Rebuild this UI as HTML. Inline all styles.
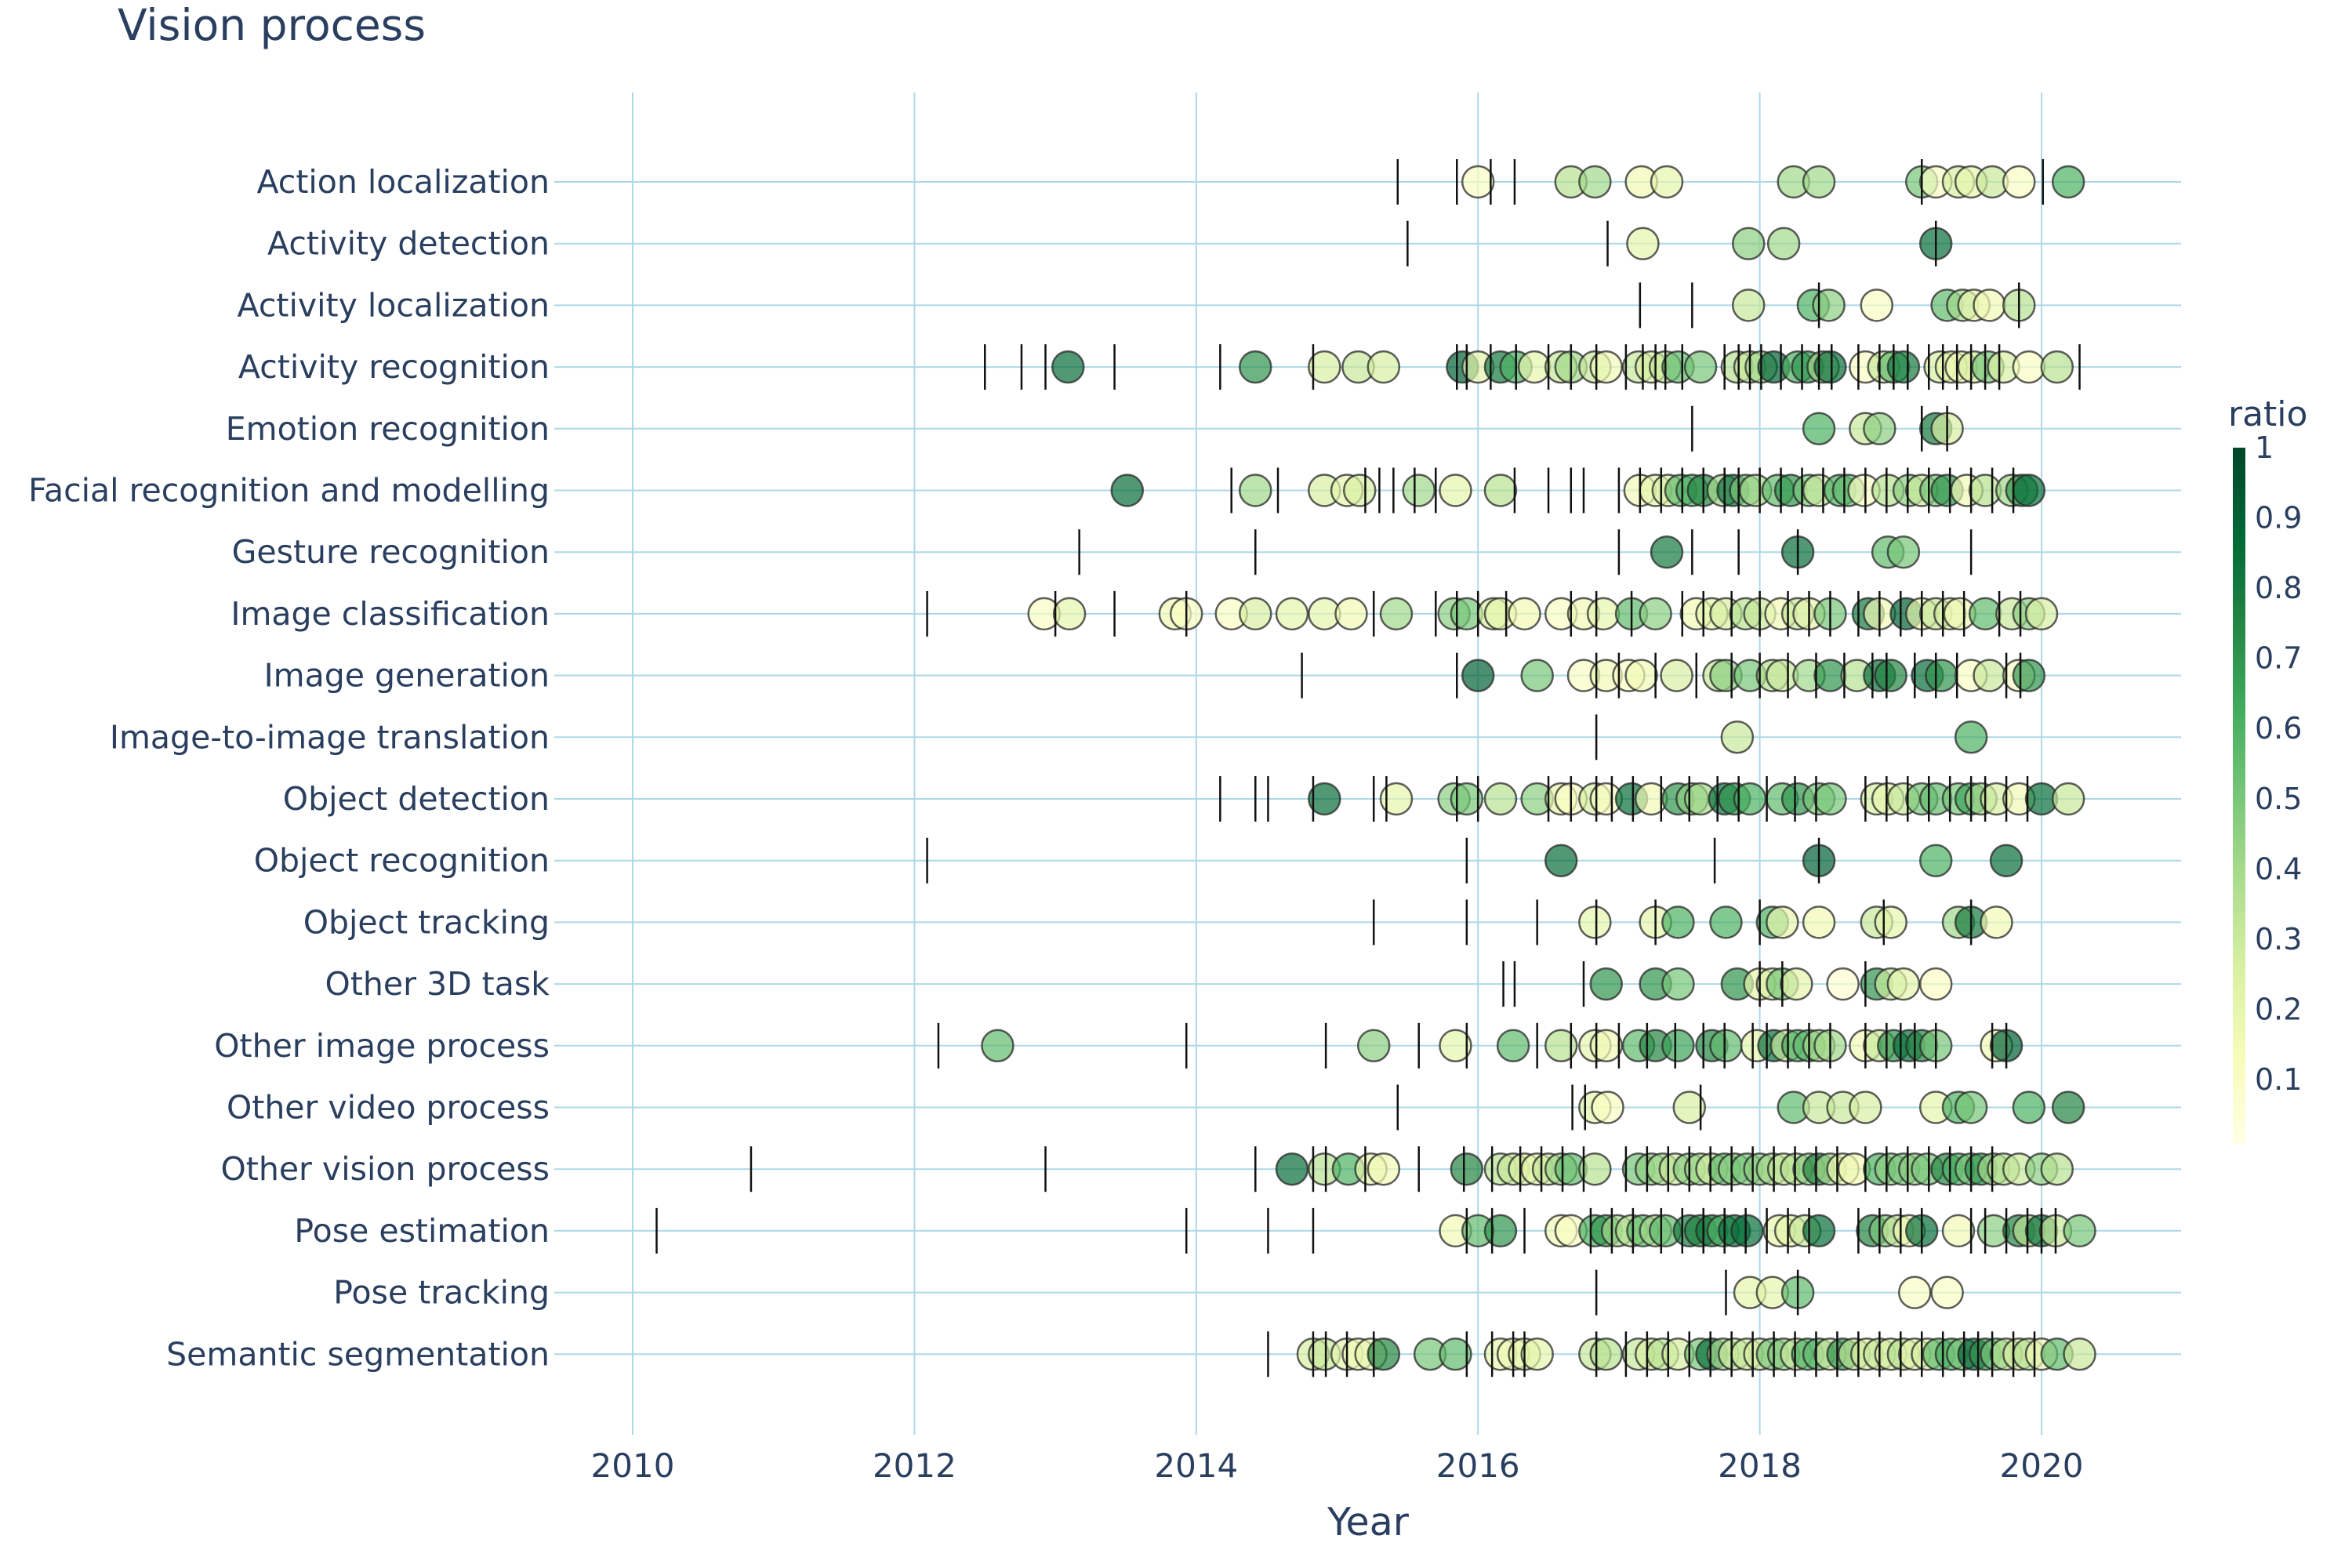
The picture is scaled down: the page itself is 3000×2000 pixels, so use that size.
<!DOCTYPE html>
<html><head><meta charset="utf-8"><style>
html,body{margin:0;padding:0;background:#fff;}
svg{display:block;font-family:"DejaVu Sans","Liberation Sans",sans-serif;}
</style></head><body>
<svg id="chart" width="3000" height="2000" viewBox="0 0 3000 2000" xmlns="http://www.w3.org/2000/svg">
<defs><linearGradient id="cbgrad" x1="0" y1="1" x2="0" y2="0">
<stop offset="0" stop-color="#ffffe5"/><stop offset="0.125" stop-color="#f7fcb9"/><stop offset="0.25" stop-color="#d9f0a3"/><stop offset="0.375" stop-color="#addd8e"/><stop offset="0.5" stop-color="#78c679"/><stop offset="0.625" stop-color="#41ab5d"/><stop offset="0.75" stop-color="#238443"/><stop offset="0.875" stop-color="#006837"/><stop offset="1" stop-color="#004529"/></linearGradient></defs>
<text x="150" y="51" font-size="55" fill="#2a3f5f">Vision process</text>
<g id="grid"></g>
<g id="ylabels"></g>
<g id="xlabels"></g>
<g id="points"></g>
<g id="ticks"></g>
<text x="1745" y="1958" font-size="49" fill="#2a3f5f" text-anchor="middle">Year</text>
<g id="colorbar">
<text x="2842" y="543" font-size="44" fill="#2a3f5f">ratio</text>
<rect x="2848" y="571" width="16" height="888" fill="url(#cbgrad)"/>
</g>
</svg>
<script>
const categories=["Action localization","Activity detection","Activity localization","Activity recognition","Emotion recognition","Facial recognition and modelling","Gesture recognition","Image classification","Image generation","Image-to-image translation","Object detection","Object recognition","Object tracking","Other 3D task","Other image process","Other video process","Other vision process","Pose estimation","Pose tracking","Semantic segmentation"];
const xTicks=[2010,2012,2014,2016,2018,2020];
const cbTicks=[0.1,0.2,0.3,0.4,0.5,0.6,0.7,0.8,0.9,1];
const cbTickLabels=["0.1","0.2","0.3","0.4","0.5","0.6","0.7","0.8","0.9","1"];
// points: [year, ratio]
const pts0=[[2016.0,0.1],[2016.66,0.35],[2016.83,0.4],[2017.16,0.15],[2017.34,0.2],[2018.24,0.4],[2018.42,0.4],[2019.15,0.5],[2019.25,0.1],[2019.41,0.25],[2019.5,0.2],[2019.65,0.3],[2019.84,0.1],[2020.19,0.6]];
const pts1=[[2017.17,0.2],[2017.92,0.45],[2018.17,0.4],[2019.25,0.85]];
const pts2=[[2017.92,0.3],[2018.38,0.6],[2018.49,0.45],[2018.83,0.1],[2019.33,0.55],[2019.44,0.4],[2019.52,0.2],[2019.63,0.15],[2019.84,0.35]];
const pts3=[[2013.09,0.85],[2014.42,0.7],[2014.91,0.25],[2015.15,0.3],[2015.33,0.25],[2015.89,0.9],[2016.0,0.2],[2016.16,0.8],[2016.27,0.6],[2016.4,0.2],[2016.59,0.3],[2016.66,0.4],[2016.83,0.3],[2016.91,0.15],[2017.14,0.3],[2017.23,0.25],[2017.33,0.3],[2017.42,0.55],[2017.58,0.5],[2017.84,0.35],[2017.93,0.3],[2018.01,0.4],[2018.1,0.9],[2018.27,0.6],[2018.34,0.7],[2018.45,0.4],[2018.5,0.85],[2018.75,0.1],[2018.88,0.3],[2018.95,0.55],[2019.02,0.8],[2019.28,0.25],[2019.36,0.2],[2019.43,0.15],[2019.52,0.25],[2019.62,0.5],[2019.73,0.25],[2019.91,0.1],[2020.11,0.35]];
const pts4=[[2018.42,0.6],[2018.75,0.3],[2018.85,0.45],[2019.25,0.8],[2019.33,0.25]];
const pts5=[[2013.51,0.85],[2014.42,0.4],[2014.91,0.25],[2015.07,0.2],[2015.16,0.25],[2015.58,0.4],[2015.84,0.2],[2016.16,0.35],[2017.15,0.15],[2017.26,0.2],[2017.35,0.25],[2017.44,0.55],[2017.52,0.6],[2017.6,0.75],[2017.74,0.4],[2017.81,0.85],[2017.9,0.5],[2017.97,0.4],[2018.13,0.55],[2018.22,0.7],[2018.35,0.5],[2018.42,0.3],[2018.57,0.6],[2018.63,0.55],[2018.74,0.1],[2018.91,0.35],[2019.06,0.45],[2019.15,0.3],[2019.25,0.5],[2019.33,0.7],[2019.47,0.15],[2019.6,0.35],[2019.79,0.4],[2019.86,0.7],[2019.91,0.85]];
const pts6=[[2017.34,0.8],[2018.27,0.85],[2018.91,0.55],[2019.02,0.5]];
const pts7=[[2012.92,0.1],[2013.1,0.2],[2013.85,0.15],[2013.93,0.1],[2014.25,0.1],[2014.42,0.25],[2014.68,0.2],[2014.91,0.2],[2015.1,0.15],[2015.42,0.4],[2015.83,0.45],[2015.92,0.5],[2016.11,0.25],[2016.16,0.2],[2016.33,0.15],[2016.59,0.1],[2016.75,0.15],[2016.89,0.2],[2017.09,0.55],[2017.26,0.45],[2017.55,0.15],[2017.66,0.2],[2017.76,0.25],[2017.9,0.35],[2018.0,0.3],[2018.15,0.15],[2018.27,0.3],[2018.35,0.2],[2018.5,0.5],[2018.77,0.8],[2018.85,0.15],[2019.04,0.9],[2019.15,0.2],[2019.25,0.3],[2019.35,0.25],[2019.42,0.15],[2019.6,0.55],[2019.79,0.3],[2019.91,0.45],[2020.0,0.25]];
const pts8=[[2016.0,0.9],[2016.42,0.5],[2016.75,0.1],[2016.91,0.15],[2017.07,0.1],[2017.16,0.15],[2017.41,0.25],[2017.71,0.3],[2017.76,0.45],[2017.93,0.5],[2018.09,0.35],[2018.16,0.3],[2018.35,0.4],[2018.5,0.7],[2018.69,0.35],[2018.85,0.85],[2018.93,0.75],[2019.19,0.85],[2019.29,0.7],[2019.5,0.1],[2019.63,0.3],[2019.84,0.1],[2019.91,0.7]];
const pts9=[[2017.84,0.3],[2019.5,0.6]];
const pts10=[[2014.91,0.85],[2015.42,0.2],[2015.83,0.45],[2015.92,0.5],[2016.16,0.35],[2016.42,0.45],[2016.59,0.2],[2016.66,0.1],[2016.83,0.25],[2016.91,0.1],[2017.09,0.85],[2017.23,0.15],[2017.42,0.7],[2017.52,0.45],[2017.58,0.4],[2017.75,0.85],[2017.82,0.7],[2017.93,0.6],[2018.16,0.55],[2018.27,0.7],[2018.42,0.5],[2018.5,0.5],[2018.83,0.25],[2018.91,0.2],[2019.02,0.3],[2019.15,0.5],[2019.25,0.55],[2019.41,0.5],[2019.5,0.65],[2019.57,0.4],[2019.68,0.25],[2019.84,0.15],[2020.0,0.85],[2020.19,0.3]];
const pts11=[[2016.59,0.85],[2018.42,0.9],[2019.25,0.6],[2019.75,0.85]];
const pts12=[[2016.83,0.2],[2017.26,0.2],[2017.42,0.6],[2017.76,0.6],[2018.09,0.6],[2018.16,0.2],[2018.42,0.15],[2018.83,0.3],[2018.93,0.2],[2019.41,0.4],[2019.5,0.8],[2019.68,0.15]];
const pts13=[[2016.91,0.7],[2017.26,0.7],[2017.42,0.5],[2017.84,0.7],[2018.0,0.2],[2018.09,0.25],[2018.16,0.5],[2018.26,0.2],[2018.59,0.05],[2018.83,0.7],[2018.93,0.3],[2019.02,0.2],[2019.25,0.1]];
const pts14=[[2012.59,0.55],[2015.26,0.45],[2015.84,0.2],[2016.25,0.55],[2016.59,0.35],[2016.83,0.2],[2016.91,0.15],[2017.14,0.55],[2017.26,0.75],[2017.42,0.65],[2017.66,0.75],[2017.76,0.55],[2017.98,0.2],[2018.1,0.85],[2018.19,0.3],[2018.27,0.6],[2018.35,0.55],[2018.42,0.4],[2018.5,0.4],[2018.75,0.15],[2018.85,0.3],[2018.95,0.7],[2019.06,0.85],[2019.15,0.75],[2019.25,0.5],[2019.68,0.15],[2019.75,0.9]];
const pts15=[[2016.83,0.2],[2016.92,0.1],[2017.5,0.25],[2018.24,0.55],[2018.42,0.3],[2018.59,0.3],[2018.75,0.25],[2019.25,0.2],[2019.41,0.6],[2019.5,0.5],[2019.91,0.6],[2020.19,0.75]];
const pts16=[[2014.68,0.85],[2014.91,0.35],[2015.08,0.6],[2015.24,0.2],[2015.33,0.15],[2015.92,0.75],[2016.16,0.35],[2016.25,0.3],[2016.33,0.25],[2016.42,0.2],[2016.5,0.3],[2016.59,0.4],[2016.66,0.55],[2016.83,0.35],[2017.14,0.5],[2017.23,0.45],[2017.31,0.4],[2017.4,0.3],[2017.5,0.45],[2017.58,0.4],[2017.66,0.3],[2017.75,0.55],[2017.82,0.45],[2017.91,0.5],[2018.0,0.45],[2018.09,0.4],[2018.17,0.3],[2018.26,0.35],[2018.35,0.45],[2018.42,0.75],[2018.5,0.4],[2018.59,0.2],[2018.67,0.15],[2018.85,0.6],[2018.93,0.45],[2019.02,0.5],[2019.1,0.45],[2019.19,0.5],[2019.33,0.75],[2019.41,0.6],[2019.5,0.5],[2019.57,0.7],[2019.66,0.4],[2019.73,0.35],[2019.84,0.3],[2020.0,0.45],[2020.11,0.35]];
const pts17=[[2015.84,0.15],[2016.0,0.55],[2016.16,0.7],[2016.59,0.15],[2016.66,0.1],[2016.83,0.6],[2016.91,0.7],[2016.99,0.4],[2017.09,0.35],[2017.17,0.55],[2017.26,0.4],[2017.33,0.55],[2017.5,0.8],[2017.58,0.75],[2017.66,0.8],[2017.74,0.6],[2017.82,0.85],[2017.91,0.85],[2018.14,0.2],[2018.22,0.2],[2018.32,0.3],[2018.42,0.85],[2018.8,0.75],[2018.89,0.5],[2018.98,0.3],[2019.06,0.15],[2019.15,0.85],[2019.41,0.15],[2019.66,0.45],[2019.84,0.75],[2019.91,0.35],[2020.0,0.85],[2020.1,0.3],[2020.27,0.5]];
const pts18=[[2017.93,0.2],[2018.09,0.2],[2018.27,0.55],[2019.1,0.1],[2019.33,0.1]];
const pts19=[[2014.83,0.25],[2014.91,0.3],[2015.07,0.2],[2015.15,0.15],[2015.24,0.2],[2015.33,0.75],[2015.66,0.5],[2015.84,0.55],[2016.16,0.2],[2016.25,0.15],[2016.33,0.2],[2016.42,0.2],[2016.83,0.3],[2016.91,0.35],[2017.14,0.3],[2017.23,0.25],[2017.31,0.35],[2017.42,0.25],[2017.58,0.5],[2017.66,0.85],[2017.74,0.4],[2017.82,0.3],[2017.91,0.3],[2018.0,0.25],[2018.09,0.5],[2018.17,0.45],[2018.26,0.3],[2018.34,0.6],[2018.42,0.55],[2018.5,0.3],[2018.59,0.7],[2018.67,0.35],[2018.76,0.25],[2018.85,0.3],[2018.93,0.25],[2019.02,0.35],[2019.1,0.2],[2019.19,0.25],[2019.27,0.55],[2019.36,0.6],[2019.44,0.5],[2019.52,0.9],[2019.6,0.7],[2019.68,0.5],[2019.75,0.35],[2019.84,0.25],[2019.91,0.35],[2020.0,0.15],[2020.11,0.55],[2020.27,0.3]];
// event lines: years
const ln0=[2015.43,2015.85,2016.09,2016.26,2019.15,2020.01];
const ln1=[2015.5,2016.92,2019.25];
const ln2=[2017.15,2017.52,2018.42,2019.84];
const ln3=[2012.5,2012.76,2012.93,2013.42,2014.17,2014.83,2015.85,2015.92,2016.09,2016.27,2016.5,2016.66,2016.84,2017.05,2017.17,2017.26,2017.33,2017.45,2017.75,2017.85,2017.93,2018.01,2018.15,2018.3,2018.42,2018.51,2018.7,2018.85,2018.95,2019.05,2019.2,2019.3,2019.4,2019.5,2019.6,2019.7,2020.27];
const ln4=[2017.52,2019.15,2019.33];
const ln5=[2014.25,2014.58,2015.2,2015.3,2015.4,2015.55,2015.7,2016.26,2016.5,2016.66,2016.75,2017.0,2017.15,2017.3,2017.45,2017.6,2017.75,2017.85,2018.0,2018.15,2018.3,2018.45,2018.6,2018.75,2018.9,2019.05,2019.2,2019.35,2019.5,2019.65,2019.8];
const ln6=[2013.17,2014.42,2017.0,2017.52,2017.85,2018.27,2019.5];
const ln7=[2012.09,2013.0,2013.42,2013.93,2015.26,2015.7,2015.85,2016.0,2016.2,2016.66,2016.84,2017.09,2017.45,2017.6,2017.8,2018.0,2018.2,2018.35,2018.5,2018.7,2018.85,2019.0,2019.15,2019.3,2019.45,2019.7,2019.85];
const ln8=[2014.75,2015.85,2016.84,2017.0,2017.26,2017.55,2017.8,2018.0,2018.2,2018.4,2018.6,2018.8,2018.9,2019.1,2019.25,2019.4,2019.75,2019.85];
const ln9=[2016.84];
const ln10=[2014.17,2014.42,2014.51,2014.83,2015.26,2015.35,2015.85,2016.0,2016.5,2016.66,2016.84,2016.95,2017.1,2017.3,2017.5,2017.7,2017.85,2018.05,2018.25,2018.4,2018.75,2018.9,2019.05,2019.2,2019.35,2019.5,2019.6,2019.75,2019.9];
const ln11=[2012.09,2015.92,2017.68,2018.42];
const ln12=[2015.26,2015.92,2016.42,2016.84,2017.26,2018.0,2018.88,2019.5];
const ln13=[2016.18,2016.26,2016.75,2018.0,2018.16,2018.75];
const ln14=[2012.17,2013.93,2014.92,2015.58,2015.92,2016.42,2016.66,2016.84,2017.0,2017.2,2017.4,2017.6,2017.75,2017.95,2018.05,2018.2,2018.35,2018.5,2018.75,2018.9,2019.0,2019.1,2019.25,2019.65,2019.75];
const ln15=[2015.43,2016.67,2016.76,2017.58];
const ln16=[2010.84,2012.93,2014.42,2014.83,2014.92,2015.2,2015.58,2015.9,2016.1,2016.3,2016.45,2016.6,2016.75,2017.05,2017.2,2017.35,2017.5,2017.65,2017.8,2017.95,2018.1,2018.25,2018.4,2018.55,2018.75,2018.9,2019.05,2019.2,2019.35,2019.5,2019.65];
const ln17=[2010.17,2013.93,2014.51,2014.83,2015.92,2016.1,2016.33,2016.8,2016.95,2017.1,2017.3,2017.45,2017.6,2017.75,2017.9,2018.05,2018.2,2018.35,2018.7,2018.85,2019.0,2019.15,2019.5,2019.6,2019.75,2019.9,2020.0,2020.1];
const ln18=[2016.84,2017.76,2018.27];
const ln19=[2014.51,2014.83,2014.92,2015.07,2015.26,2015.92,2016.1,2016.25,2016.33,2016.84,2017.05,2017.2,2017.35,2017.5,2017.65,2017.8,2017.95,2018.1,2018.25,2018.4,2018.55,2018.7,2018.85,2019.0,2019.15,2019.3,2019.45,2019.55,2019.65,2019.8,2019.95];

const allPts=[pts0,pts1,pts2,pts3,pts4,pts5,pts6,pts7,pts8,pts9,pts10,pts11,pts12,pts13,pts14,pts15,pts16,pts17,pts18,pts19];
const allLns=[ln0,ln1,ln2,ln3,ln4,ln5,ln6,ln7,ln8,ln9,ln10,ln11,ln12,ln13,ln14,ln15,ln16,ln17,ln18,ln19];

const NS="http://www.w3.org/2000/svg";
const X0=807,PXY=179.7,Y0=232,ROW=78.7,PL=707,PR=2782,PT=118,PB=1830;
function xs(v){return X0+(v-2010)*PXY;}
function ys(i){return Y0+i*ROW;}
function cbY(v){return 1466.6-v*895.6;}
const stops=[[255,255,229],[247,252,185],[217,240,163],[173,221,142],[120,198,121],[65,171,93],[35,132,67],[0,104,55],[0,69,41]];
function col(v){v=Math.max(0,Math.min(1,v));const t=v*8,i=Math.min(7,Math.floor(t)),f=t-i;const a=stops[i],b=stops[i+1];return "rgb("+a.map((c,k)=>Math.round(c+(b[k]-c)*f)).join(",")+")";}
function mk(tag,attrs,parent){const e=document.createElementNS(NS,tag);for(const k in attrs)e.setAttribute(k,attrs[k]);parent.appendChild(e);return e;}

const grid=document.getElementById('grid');
xTicks.forEach(t=>{const l=mk('line',{x1:xs(t),x2:xs(t),y1:PT,y2:PB,stroke:'#add8e6','stroke-width':2},grid);

});
categories.forEach((c,i)=>{const l=mk('line',{x1:PL,x2:PR,y1:ys(i),y2:ys(i),stroke:'#add8e6','stroke-width':2},grid);

});

const yl=document.getElementById('ylabels');
categories.forEach((c,i)=>{const t=mk('text',{x:701,y:ys(i)+14,'font-size':41,fill:'#2a3f5f','text-anchor':'end'},yl);t.textContent=c;

});
const xl=document.getElementById('xlabels');
xTicks.forEach(v=>{const t=mk('text',{x:xs(v),y:1884,'font-size':42,fill:'#2a3f5f','text-anchor':'middle'},xl);t.textContent=String(v);

});

const pg=document.getElementById('points');
allPts.forEach((arr,i)=>arr.forEach(p=>{const c=mk('circle',{cx:xs(p[0]),cy:ys(i),r:20,fill:col(p[1]),'fill-opacity':0.7,stroke:'rgba(40,40,40,0.75)','stroke-width':2.5},pg);

}));
const tg=document.getElementById('ticks');
allLns.forEach((arr,i)=>arr.forEach(v=>{const l=mk('line',{x1:xs(v),x2:xs(v),y1:ys(i)-29,y2:ys(i)+29,stroke:'#111','stroke-width':2.5},tg);

}));

const cb=document.getElementById('colorbar');
cbTicks.forEach((v,k)=>{const t=mk('text',{x:2876,y:cbY(v)+13,'font-size':38,fill:'#2a3f5f'},cb);t.textContent=cbTickLabels[k];

});
</script>
</body></html>
